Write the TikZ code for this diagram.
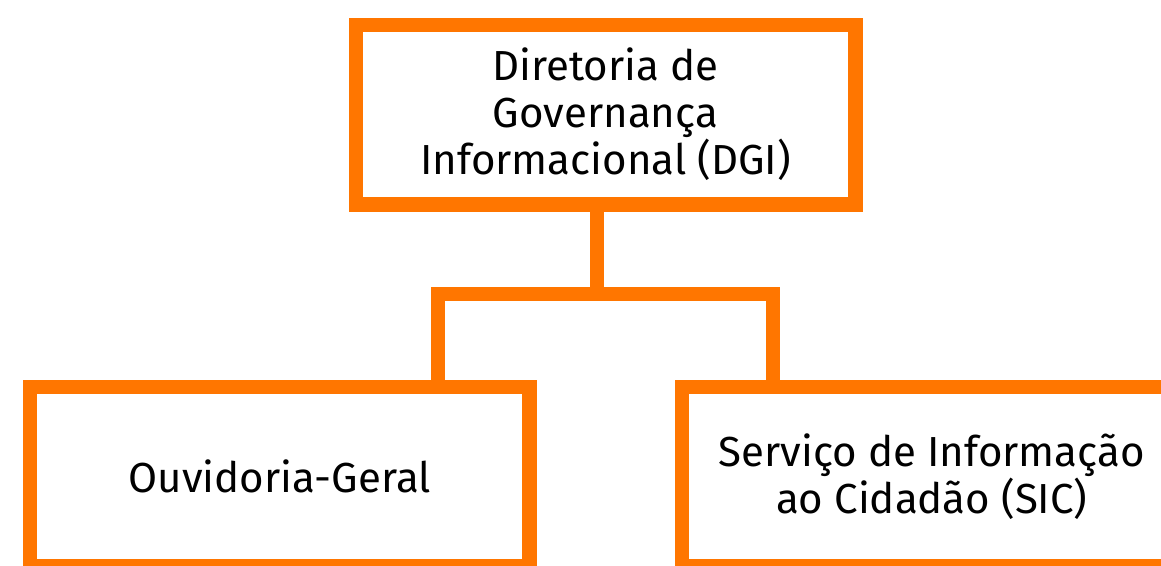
\documentclass[tikz,border=0pt]{standalone}
\usepackage{fontspec}
\setmainfont{Fira Sans}
\usepackage{xcolor}
\usetikzlibrary{positioning}
\definecolor{laranja}{RGB}{255,118,0}

\begin{document}
\begin{tikzpicture}[x=1pt, y=-1pt,
    unidade/.style={draw=laranja, line width=14.5pt, fill=white, align=center,
        minimum width=499.5pt, minimum height=179.5pt, inner sep=0pt,
        font=\fontsize{42}{47}\selectfont},
    ligacao/.style={draw=laranja, line width=14pt, line join=miter}]
    \useasboundingbox (0,0) rectangle (1161,565);
    \clip (0,0) rectangle (1161,565);

    % Nodes
    \node[unidade] (dgi) at (605.5,114.5) {Diretoria de\\Governança\\Informacional (DGI)};
    \node[unidade] (ouv) at (279.75,476.75) {Ouvidoria-Geral};
    \node[unidade] (sic) at (931.75,476.75) {Serviço de Informação\\ao Cidadão (SIC)};
    \coordinate (split) at (597,294);

    % Lines
    \draw[ligacao] (dgi.south -| split) -- (split);
    \draw[ligacao] ([xshift=157.75pt]ouv.north) |- (split) -| ([xshift=-158.75pt]sic.north);
\end{tikzpicture}
\end{document}
